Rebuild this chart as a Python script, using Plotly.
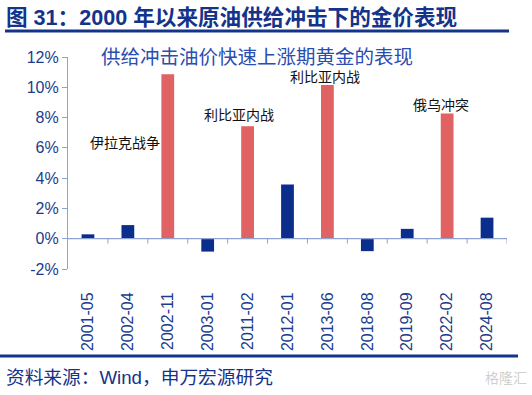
import plotly.graph_objects as go

categories = ["2001-05", "2002-04", "2002-11", "2003-01", "2011-02", "2012-01",
              "2013-06", "2018-08", "2019-09", "2022-02", "2024-08"]
values = [0.29, 0.9, 10.86, -0.85, 7.42, 3.58, 10.15, -0.82, 0.65, 8.27, 1.39]
shock = [False, False, True, False, True, False, True, False, False, True, False]
event_cats = ["2002-11", "2011-02", "2013-06", "2022-02"]
event_y = [6.35, 8.15, 10.67, 8.8]
event_dx = [-1.08, -0.22, -0.05, -0.15]
event_labels = ["伊拉克战争", "利比亚内战", "利比亚内战", "俄乌冲突"]
y_ticks = [-2, 0, 2, 4, 6, 8, 10, 12]
y_ticklabels = [f"{v}%" for v in y_ticks]

RED = "#E06262"
NAVY = "#0B2D8C"
AXIS = "#8FA3D3"
TXT = "#1B3C8C"
LAT = "Liberation Sans, Arial, Noto Sans CJK SC, sans-serif"
CJK = "Liberation Sans, Noto Sans CJK SC, sans-serif"

W, H = 532, 395
ML, MR, MT, MB = 68, 25, 57, 126
pw, ph = W - ML - MR, H - MT - MB


def px_to_paper(x, y):
    return (x - ML) / pw, (H - MB - y) / ph


colors = [RED if s else NAVY for s in shock]

fig = go.Figure()
fig.add_trace(go.Bar(x=categories, y=values, marker=dict(color=colors, line=dict(width=0)),
                     width=0.32, showlegend=False, hoverinfo="skip"))

# zero line
fig.add_shape(type="line", xref="x", yref="y", x0=-0.5, x1=len(categories) - 0.5, y0=0, y1=0,
              line=dict(color=AXIS, width=1.2))
# tick marks at category boundaries on the zero line
for i in range(1, len(categories) + 1):
    fig.add_shape(type="line", xref="x", yref="y", x0=i - 0.5, x1=i - 0.5, y0=0, y1=-0.32,
                  line=dict(color=AXIS, width=1))

for cat, yv, dx, txt in zip(event_cats, event_y, event_dx, event_labels):
    idx = categories.index(cat)
    fig.add_annotation(x=idx + dx, y=yv, xref="x", yref="y", text=txt, showarrow=False,
                       xanchor="center", yanchor="middle",
                       font=dict(size=14, color="#111111", family=CJK))

sx, sy = px_to_paper(257, 57)
fig.add_annotation(x=sx, y=sy, xref="paper", yref="paper", text="供给冲击油价快速上涨期黄金的表现",
                   showarrow=False, xanchor="center", yanchor="middle",
                   font=dict(size=19.5, color="#2A4DB0", family=CJK))

tx, ty = px_to_paper(4, 17)
fig.add_annotation(x=tx, y=ty, xref="paper", yref="paper",
                   text="<b>图 31：2000 年以来原油供给冲击下的金价表现</b>",
                   showarrow=False, xanchor="left", yanchor="middle",
                   font=dict(size=21.6, color="#14338A", family=CJK))

x0p, y0p = px_to_paper(5, 31)
x1p, _ = px_to_paper(509, 31)
fig.add_shape(type="line", xref="paper", yref="paper", x0=x0p, x1=x1p, y0=y0p, y1=y0p,
              line=dict(color="#14338A", width=3))
bx0, by = px_to_paper(0, 356)
bx1, _ = px_to_paper(518, 356)
fig.add_shape(type="line", xref="paper", yref="paper", x0=bx0, x1=bx1, y0=by, y1=by,
              line=dict(color="#14338A", width=3))

sxp, syp = px_to_paper(4, 377)
fig.add_annotation(x=sxp, y=syp, xref="paper", yref="paper", text="资料来源：Wind，申万宏源研究",
                   showarrow=False, xanchor="left", yanchor="middle",
                   font=dict(size=18.7, color="#14338A", family=CJK))
wxp, wyp = px_to_paper(483, 378)
fig.add_annotation(x=wxp, y=wyp, xref="paper", yref="paper", text="格隆汇",
                   showarrow=False, xanchor="left", yanchor="middle",
                   font=dict(size=14, color="#D0D0D0", family=CJK))

fig.update_layout(
    width=W, height=H,
    margin=dict(l=ML, r=MR, t=MT, b=MB, autoexpand=False),
    plot_bgcolor="white", paper_bgcolor="white",
    font=dict(family=LAT, color=TXT),
    bargap=0.68,
    xaxis=dict(type="category", showline=False, showgrid=False, zeroline=False,
               ticks="outside", ticklen=16, tickcolor="rgba(0,0,0,0)",
               tickangle=-90, tickfont=dict(size=16, color=TXT, family=LAT),
               range=[-0.5, len(categories) - 0.5], automargin=False),
    yaxis=dict(range=[-2, 12], tickvals=y_ticks, ticktext=y_ticklabels, showgrid=False,
               zeroline=False, showline=True, linecolor=AXIS, linewidth=1.2,
               ticks="outside", ticklen=5, tickcolor=AXIS, automargin=False,
               tickfont=dict(size=16, color=TXT, family=LAT)),
)

fig.write_html("out.html", config={"displayModeBar": False},
               post_script="document.body.style.margin='0';document.body.style.overflow='hidden';")
